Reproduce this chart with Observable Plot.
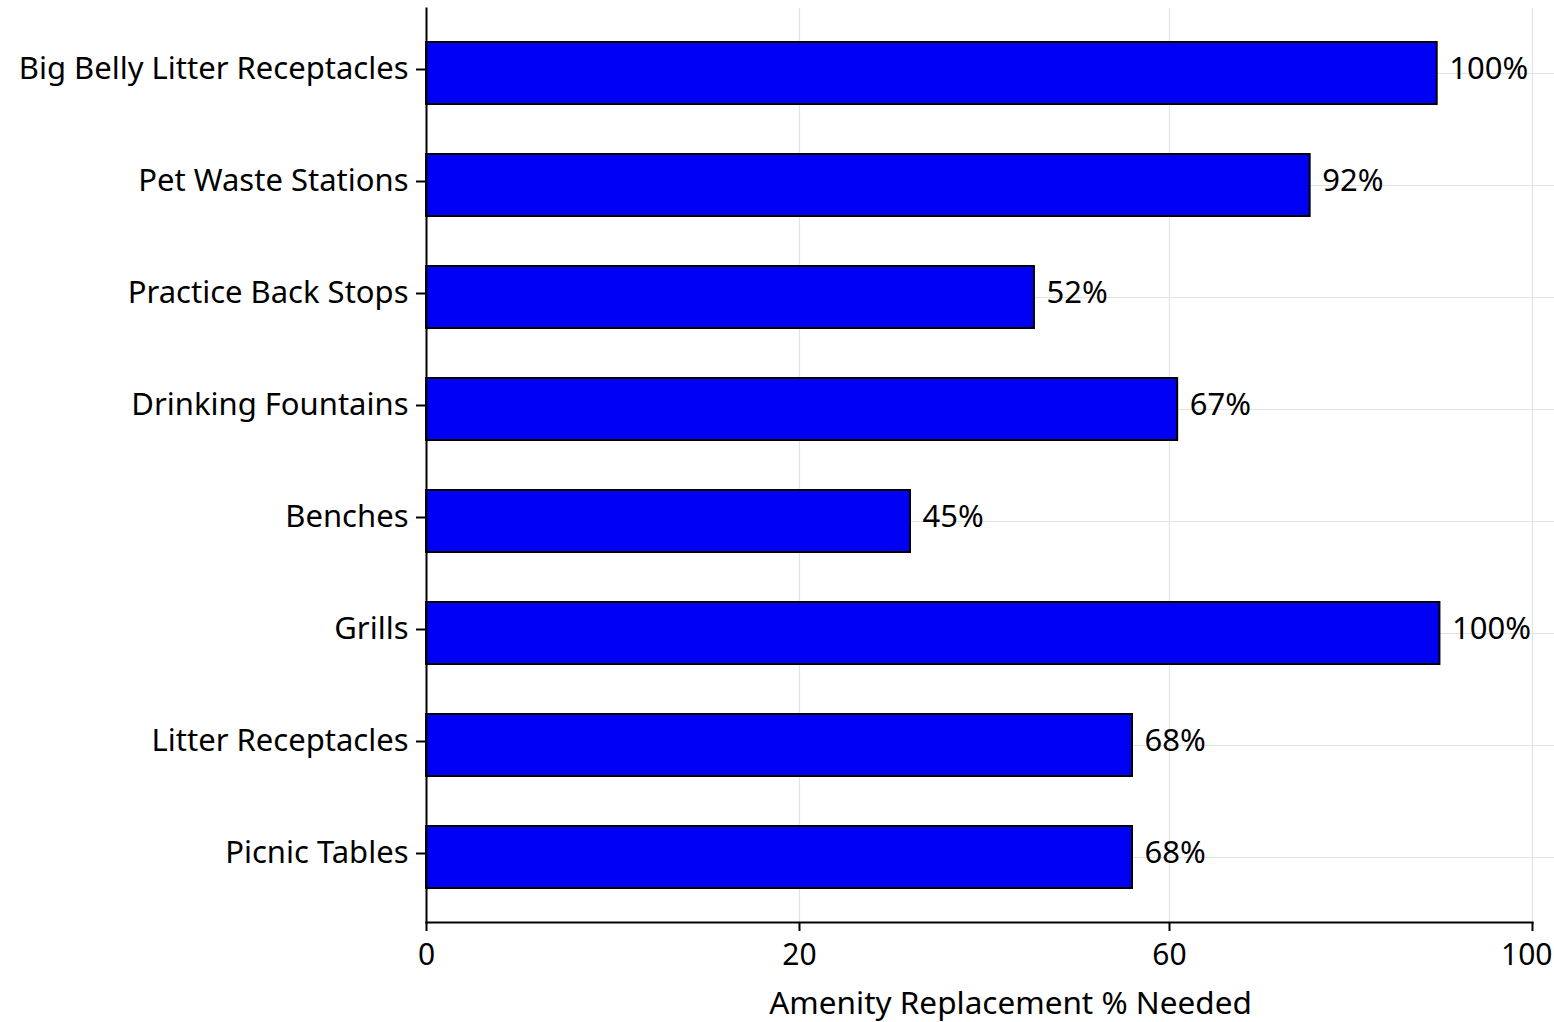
<!DOCTYPE html>
<html>
<head>
<meta charset="utf-8">
<script src="https://cdn.jsdelivr.net/npm/d3@7"></script>
<script src="https://cdn.jsdelivr.net/npm/@observablehq/plot@0.6"></script>
<style>
  html, body { margin: 0; padding: 0; background: #fff; }
  #chart svg { display: block; }
</style>
</head>
<body>
<div id="chart"></div>
<script>
const categories = ["Big Belly Litter Receptacles", "Pet Waste Stations", "Practice Back Stops", "Drinking Fountains", "Benches", "Grills", "Litter Receptacles", "Picnic Tables"];
const barValues = [89.5, 75.5, 45.4, 60.9, 32.0, 89.8, 56.0, 56.0];
const barLabels = ["100%", "92%", "52%", "67%", "45%", "100%", "68%", "68%"];
const xTicks = [0, 20, 60, 100];
const xTitle = "Amenity Replacement % Needed";

const data = categories.map((c, i) => ({category: c, value: barValues[i], label: barLabels[i]}));
const innerTicks = xTicks.slice(0, -1);
const lastTick = xTicks.slice(-1);

const chart = Plot.plot({
  width: 1554,
  height: 1022,
  marginLeft: 426,
  marginRight: 0,
  marginTop: 8,
  marginBottom: 100,
  style: {fontFamily: "Noto Sans", color: "#000", background: "#fff"},
  x: {type: "linear", domain: xTicks, range: [426, 799, 1169, 1532]},
  y: {domain: categories, paddingInner: 0.45, paddingOuter: 0.28},
  marks: [
    Plot.gridX({ticks: xTicks, stroke: "#e3e3e3", strokeOpacity: 1, strokeWidth: 1.2}),
    Plot.gridY({stroke: "#e3e3e3", strokeOpacity: 1, strokeWidth: 1.2}),
    Plot.barX(data, {x: "value", y: "category", fill: "#0000f5", stroke: "#000", strokeWidth: 2}),
    Plot.text(data, {x: "value", y: "category", text: "label", textAnchor: "start", dx: 12, dy: -4, fontSize: 31, fill: "#000"}),
    Plot.frame({anchor: "left", stroke: "#000", strokeWidth: 2}),
    Plot.frame({anchor: "bottom", insetRight: 22, stroke: "#000", strokeWidth: 2}),
    Plot.axisY({tickSize: 10, tickPadding: 8, dy: -4, fontSize: 31, label: null, strokeWidth: 2}),
    Plot.axisX({ticks: xTicks, tickSize: 9, tickFormat: () => "", label: null, strokeWidth: 2}),
    Plot.axisX({ticks: innerTicks, tickSize: 0, tickPadding: 21, fontSize: 30, label: null}),
    Plot.axisX({ticks: lastTick, tickSize: 0, tickPadding: 21, fontSize: 30, label: null, textAnchor: "end", dx: 20}),
    Plot.text([xTitle], {frameAnchor: "bottom", lineAnchor: "middle", dy: 81, dx: 20, fontSize: 31.5, fill: "#000"})
  ]
});
document.getElementById("chart").appendChild(chart);
</script>
</body>
</html>
